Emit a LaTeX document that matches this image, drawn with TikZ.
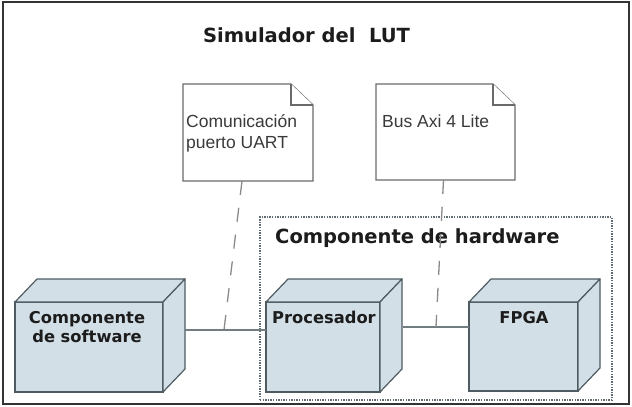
\documentclass[tikz,border=0pt]{standalone}
\usepackage{fontspec}
\setmainfont{Liberation Sans}
\newfontfamily\headfont{DejaVu Sans}
\usetikzlibrary{calc}
\definecolor{boxfill}{HTML}{D2DFE6}
\definecolor{boxline}{HTML}{4E5C62}
\definecolor{noteline}{HTML}{6A6A6A}
\definecolor{txtdark}{HTML}{1C1C1C}
\definecolor{txtnote}{HTML}{3A3A3A}
\definecolor{dashcol}{HTML}{8A8A8A}
\tikzset{
  frontface/.style={draw=boxline, fill=boxfill, line width=1.2pt, inner sep=0pt, outer sep=0pt},
  sideface/.style={draw=boxline, fill=boxfill, line width=1.2pt, line join=round},
  notebox/.style={inner sep=0pt, outer sep=0pt},
  noteline/.style={draw=noteline, fill=white, line width=1.2pt, line join=miter},
  blab/.style={font=\headfont\bfseries\fontsize{16.3}{19}\selectfont, text=txtdark, inner sep=0pt, anchor=base},
  heading/.style={font=\headfont\bfseries\fontsize{19.5}{23}\selectfont, text=txtdark, inner sep=0pt},
  ntext/.style={font=\fontsize{17.5}{21}\selectfont, text=txtnote, inner sep=0pt, anchor=base west},
  conn/.style={draw=boxline!80, line width=1.2pt},
  conndash/.style={draw=dashcol, line width=1.3pt, dash pattern=on 14pt off 13pt},
  hwbox/.style={draw=boxline!90, line width=1.3pt, dash pattern=on 1.4pt off 1.2pt, inner sep=0pt, outer sep=0pt},
  framebox/.style={draw=black!80, line width=1.6pt, inner sep=0pt, outer sep=0pt}
}
\newcommand\drawcube[1]{%
  \path[sideface] (#1.north west) -- ($(#1.north west)+(22,-23)$) -- ($(#1.north east)+(22,-23)$) -- (#1.north east) -- cycle;
  \path[sideface] (#1.north east) -- ($(#1.north east)+(22,-23)$) -- ($(#1.south east)+(22,-23)$) -- (#1.south east) -- cycle;
}
\newcommand\drawnote[1]{%
  \path[noteline] (#1.north west) -- ($(#1.north east)+(-22,0)$) -- ($(#1.north east)+(0,21)$) -- (#1.south east) -- (#1.south west) -- cycle;
  \path[noteline] ($(#1.north east)+(-22,0)$) -- ($(#1.north east)+(-22,21)$) -- ($(#1.north east)+(0,21)$);
}
\begin{document}
\begin{tikzpicture}[x=1pt,y=-1pt]
\useasboundingbox (0,0) rectangle (632,407);
\fill[white] (0,0) rectangle (632,407);
\node[framebox, minimum width=626pt, minimum height=402pt] (frame) at (316,203) {};

% title
\node[heading, anchor=base] (title) at (306.5,42) {Simulador del~~LUT};

% hardware group
\node[hwbox, minimum width=352pt, minimum height=183pt] (hw) at (436,308.5) {};
\node[heading, anchor=base west] (hwt) at (275,243) {Componente de hardware};

% notes
\node[notebox, minimum width=130pt, minimum height=97pt] (n1) at (248,132.5) {};
\drawnote{n1}
\node[ntext] (n1a) at (186,127) {Comunicación};
\node[ntext] (n1b) at (186,148) {puerto UART};

\node[notebox, minimum width=139pt, minimum height=96pt] (n2) at (445.5,132) {};
\drawnote{n2}
\node[ntext] (n2a) at (382,127) {Bus Axi 4 Lite};

% cubes
\node[frontface, minimum width=148pt, minimum height=90pt] (sw) at (89,347) {};
\drawcube{sw}
\node[frontface, minimum width=114pt, minimum height=90pt] (pr) at (323,347) {};
\drawcube{pr}
\node[frontface, minimum width=109pt, minimum height=89pt] (fp) at (523.5,346.5) {};
\drawcube{fp}

\node[blab] (swl1) at (87,323) {Componente};
\node[blab] (swl2) at (87,342) {de software};
\node[blab] (prl) at (324,323) {Procesador};
\node[blab] (fpl) at (524,323) {FPGA};

% connectors
\coordinate (swR) at ($(sw.north east)+(22,28)$);
\coordinate (prR) at ($(pr.north east)+(23,25)$);
\draw[conn] (swR) -- (swR -| pr.west);
\draw[conn] (prR) -- (prR -| fp.west);

\coordinate (d1) at (224,330);
\coordinate (d2) at (436,327);
\draw[conndash] ($(n1.south)+(-6,0)$) -- (d1);
\draw[conndash] ($(n2.south)+(-2,0)$) -- (d2);
\end{tikzpicture}
\end{document}
